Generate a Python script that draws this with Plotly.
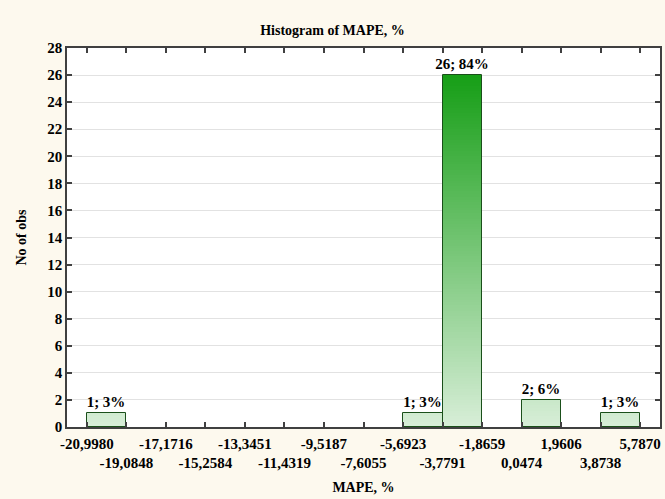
import plotly.graph_objects as go

# ---- data ----
bin_edges = [-20.9980, -19.0848, -17.1716, -15.2584, -13.3451, -11.4319, -9.5187,
             -7.6055, -5.6923, -3.7791, -1.8659, 0.0474, 1.9606, 3.8738, 5.7870]
tick_labels = ["-20,9980", "-19,0848", "-17,1716", "-15,2584", "-13,3451", "-11,4319",
               "-9,5187", "-7,6055", "-5,6923", "-3,7791", "-1,8659", "0,0474",
               "1,9606", "3,8738", "5,7870"]
counts = [1, 0, 0, 0, 0, 0, 0, 0, 1, 26, 0, 2, 0, 1]
total = sum(counts)

centers = [(bin_edges[i] + bin_edges[i + 1]) / 2 for i in range(len(counts))]
widths = [bin_edges[i + 1] - bin_edges[i] for i in range(len(counts))]
bw = widths[0]

FONT = "Liberation Serif"
light = (216, 238, 216)
dark = (22, 158, 22)
ymax_c = max(counts)

def col(y):
    t = max(0.0, min(1.0, y / ymax_c))
    return "rgb(%d,%d,%d)" % tuple(round(light[k] + (dark[k] - light[k]) * t) for k in range(3))

# gradient fill: overlapping segments painted bottom-to-top
seg_x, seg_y, seg_base, seg_col, seg_w = [], [], [], [], []
step = 0.2
for c, xc, w in zip(counts, centers, widths):
    if c <= 0:
        continue
    n = int(round(c / step))
    for k in range(n):
        b = k * step
        seg_x.append(xc)
        seg_base.append(b)
        seg_y.append(c - b)
        seg_col.append(col(b + step / 2))
        seg_w.append(w)

fig = go.Figure()
fig.add_trace(go.Bar(x=seg_x, y=seg_y, base=seg_base, width=seg_w,
                     marker=dict(color=seg_col, line=dict(width=0)),
                     hoverinfo="skip", showlegend=False))

nz = [i for i, c in enumerate(counts) if c > 0]
labels = [f"{counts[i]}; {round(100 * counts[i] / total)}%" for i in nz]
fig.add_trace(go.Bar(x=[centers[i] for i in nz], y=[counts[i] for i in nz],
                     width=[widths[i] for i in nz],
                     marker=dict(color="rgba(0,0,0,0)", line=dict(color="#1a4f1a", width=1)),
                     text=labels, textposition="outside", cliponaxis=False,
                     constraintext="none", textangle=0,
                     textfont=dict(family=FONT, size=15, color="black", weight="bold"),
                     showlegend=False))

ticktext = [t if i % 2 == 0 else "<br>" + t for i, t in enumerate(tick_labels)]

fig.update_layout(
    width=665, height=499,
    margin=dict(l=67, r=5, t=48, b=72, autoexpand=False),
    paper_bgcolor="#fdf9ee", plot_bgcolor="white",
    barmode="overlay", bargap=0,
    title=dict(text="Histogram of MAPE, %", x=0.5, xanchor="center", y=0.94, yanchor="middle",
               font=dict(family=FONT, size=14, color="black", weight="bold")),
    font=dict(family=FONT, color="black"),
)
fig.update_xaxes(
    range=[bin_edges[0] - bw / 2, bin_edges[-1] + bw / 2],
    tickmode="array", tickvals=bin_edges, ticktext=ticktext, tickangle=0,
    ticks="inside", ticklen=5, tickcolor="#404040", tickwidth=1.5,
    showline=True, linecolor="#404040", linewidth=1.5, mirror="ticks",
    showgrid=False, zeroline=False, automargin=False, ticklabelstandoff=2,
    tickfont=dict(family=FONT, size=15, color="black", weight="bold"),
    title=dict(text="MAPE, %", standoff=12,
               font=dict(family=FONT, size=14, color="black", weight="bold")),
)
fig.update_yaxes(
    range=[0, 28], dtick=2, tick0=0,
    ticks="inside", ticklen=5, tickcolor="#404040", tickwidth=1.5,
    showline=True, linecolor="#404040", linewidth=1.5, mirror="ticks",
    showgrid=True, gridcolor="#e2e2e2", gridwidth=1, zeroline=False, automargin=False,
    tickfont=dict(family=FONT, size=15, color="black", weight="bold"),
    title=dict(text="No of obs", standoff=17,
               font=dict(family=FONT, size=14, color="black", weight="bold")),
)

fig.write_html("out.html", config={"displayModeBar": False},
               post_script="document.body.style.margin='0';document.body.style.background='#fdf9ee';")
